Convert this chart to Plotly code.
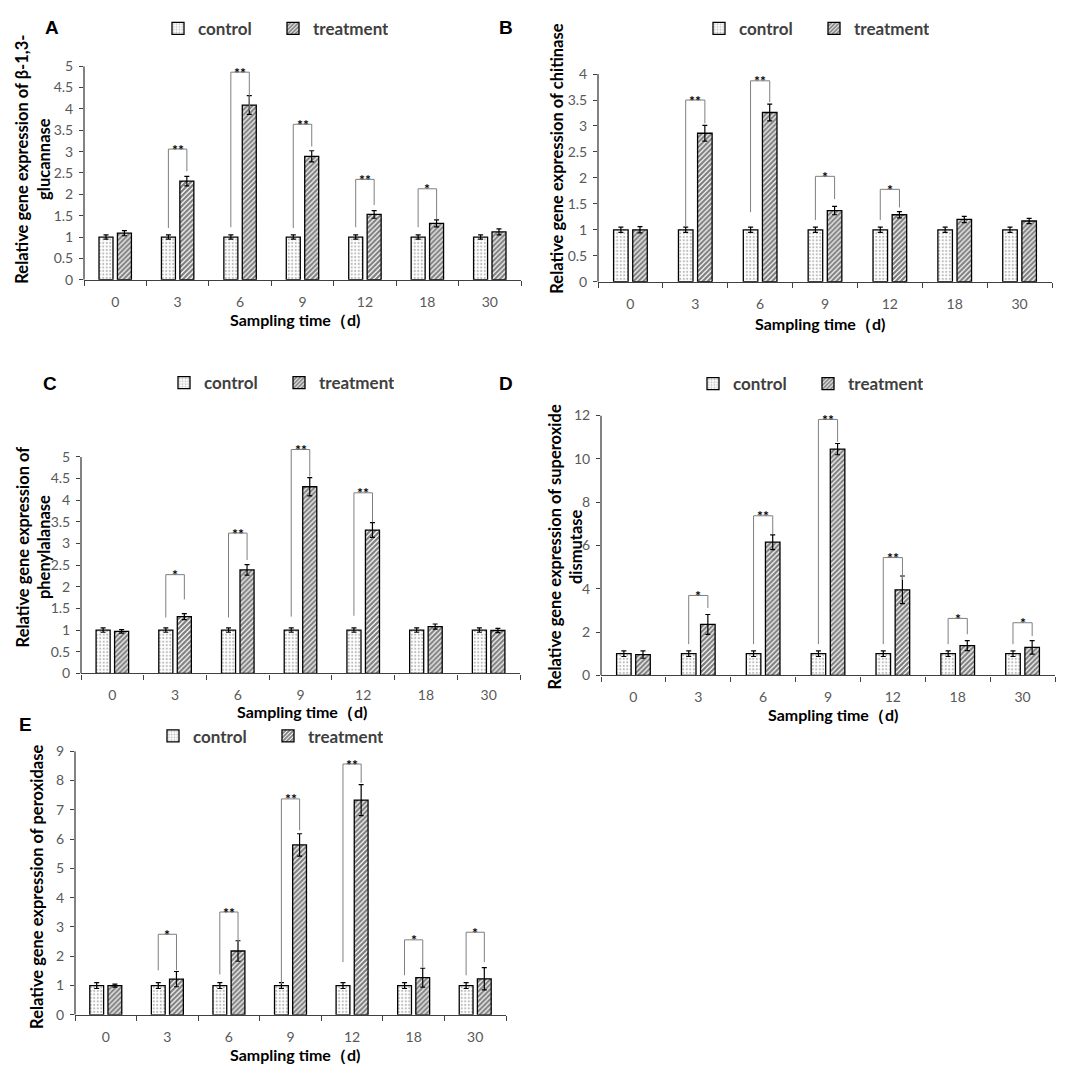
import plotly.graph_objects as go

days = ["0", "3", "6", "9", "12", "18", "30"]

# A: beta-1,3-glucanase
glu_ctrl = [1.0, 1.0, 1.0, 1.0, 1.0, 1.0, 1.0]
glu_ctrl_err = [0.05, 0.05, 0.05, 0.05, 0.05, 0.05, 0.05]
glu_trt = [1.09, 2.31, 4.09, 2.89, 1.53, 1.32, 1.12]
glu_trt_err = [0.06, 0.11, 0.22, 0.13, 0.09, 0.08, 0.07]
glu_sig = ["", "**", "**", "**", "**", "*", ""]
glu_brk_top = [None, 3.06, 4.86, 3.64, 2.35, 2.13, None]
glu_brk_left = [None, 1.21, 1.23, 1.21, 1.23, 1.23, None]
glu_brk_right = [None, 2.54, 3.96, 3.12, 1.75, 1.42, None]

# B: chitinase
chi_ctrl = [1.0, 1.0, 1.0, 1.0, 1.0, 1.0, 1.0]
chi_ctrl_err = [0.05, 0.05, 0.05, 0.05, 0.05, 0.05, 0.05]
chi_trt = [1.0, 2.86, 3.26, 1.37, 1.29, 1.2, 1.17]
chi_trt_err = [0.06, 0.15, 0.16, 0.08, 0.06, 0.06, 0.05]
chi_sig = ["", "**", "**", "*", "*", "", ""]
chi_brk_top = [None, 3.5, 3.87, 2.03, 1.78, None, None]
chi_brk_left = [None, 1.06, 1.34, 1.19, 1.19, None, None]
chi_brk_right = [None, 3.05, 3.46, 1.59, 1.43, None, None]

# C: phenylalanase
phe_ctrl = [1.0, 1.0, 1.0, 1.0, 1.0, 1.0, 1.0]
phe_ctrl_err = [0.05, 0.05, 0.05, 0.05, 0.05, 0.05, 0.05]
phe_trt = [0.97, 1.31, 2.39, 4.31, 3.31, 1.08, 0.99]
phe_trt_err = [0.04, 0.07, 0.12, 0.21, 0.17, 0.06, 0.05]
phe_sig = ["", "*", "**", "**", "**", "", ""]
phe_brk_top = [None, 2.28, 3.24, 5.17, 4.17, None, None]
phe_brk_left = [None, 1.29, 1.29, 1.31, 1.33, None, None]
phe_brk_right = [None, 1.71, 2.62, 4.55, 3.49, None, None]

# D: superoxide dismutase
sod_ctrl = [1.0, 1.0, 1.0, 1.0, 1.0, 1.0, 1.0]
sod_ctrl_err = [0.13, 0.13, 0.13, 0.13, 0.13, 0.13, 0.13]
sod_trt = [0.96, 2.35, 6.15, 10.45, 3.95, 1.37, 1.29]
sod_trt_err = [0.17, 0.46, 0.34, 0.26, 0.64, 0.23, 0.31]
sod_sig = ["", "*", "**", "**", "**", "*", "*"]
sod_brk_top = [None, 3.69, 7.37, 11.82, 5.44, 2.63, 2.43]
sod_brk_left = [None, 1.44, 1.44, 1.44, 1.44, 1.44, 1.44]
sod_brk_right = [None, 3.11, 6.53, 10.79, 4.41, 1.9, 1.82]

# E: peroxidase
pod_ctrl = [1.0, 1.0, 1.0, 1.0, 1.0, 1.0, 1.0]
pod_ctrl_err = [0.1, 0.1, 0.1, 0.1, 0.1, 0.1, 0.1]
pod_trt = [1.0, 1.22, 2.18, 5.8, 7.33, 1.27, 1.23]
pod_trt_err = [0.05, 0.26, 0.35, 0.38, 0.53, 0.32, 0.38]
pod_sig = ["", "*", "**", "**", "**", "*", "*"]
pod_brk_top = [None, 2.75, 3.51, 7.37, 8.56, 2.56, 2.82]
pod_brk_left = [None, 1.52, 1.38, 1.05, 1.8, 1.35, 1.35]
pod_brk_right = [None, 1.52, 2.47, 6.3, 7.92, 1.62, 1.8]

# the page body keeps its default 8px margin, so size the figure to fit inside it
PAD = 8
W = H = 1084 - 2 * PAD
FONT = "Lato, 'Open Sans', sans-serif"


def px(x):
    return (x - PAD) / W


def py(y):
    return 1 - (y - PAD) / H


panels = [
    dict(letter="A", data=(glu_ctrl, glu_ctrl_err, glu_trt, glu_trt_err, glu_sig, glu_brk_top, glu_brk_left, glu_brk_right),
         ymax=5, dtick=0.5, head=1.0, box=(84, 521, 58, 275),
         ytitle="Relative gene expression of β-1,3-<br>glucannase", ytpos=(33, 153),
         xtpos=(295, 316), letpos=(52, 19), legpos=(182, 20)),
    dict(letter="B", data=(chi_ctrl, chi_ctrl_err, chi_trt, chi_trt_err, chi_sig, chi_brk_top, chi_brk_left, chi_brk_right),
         ymax=4, dtick=0.5, head=1.0, box=(598, 1052, 66, 277),
         ytitle="Relative gene expression of chitinase", ytpos=(557, 152),
         xtpos=(820, 320), letpos=(506, 19), legpos=(723, 20)),
    dict(letter="C", data=(phe_ctrl, phe_ctrl_err, phe_trt, phe_trt_err, phe_sig, phe_brk_top, phe_brk_left, phe_brk_right),
         ymax=5, dtick=0.5, head=1.06, box=(81, 520, 455, 675),
         ytitle="Relative gene expression of<br>phenylalanase", ytpos=(33, 547),
         xtpos=(302, 714), letpos=(50, 380), legpos=(188, 380)),
    dict(letter="D", data=(sod_ctrl, sod_ctrl_err, sod_trt, sod_trt_err, sod_sig, sod_brk_top, sod_brk_left, sod_brk_right),
         ymax=12, dtick=2, head=1.0, box=(601, 1055, 413, 677),
         ytitle="Relative gene expression of superoxide<br>dismutase", ytpos=(565, 547),
         xtpos=(833, 717), letpos=(506, 380), legpos=(717, 381)),
    dict(letter="E", data=(pod_ctrl, pod_ctrl_err, pod_trt, pod_trt_err, pod_sig, pod_brk_top, pod_brk_left, pod_brk_right),
         ymax=9, dtick=1, head=1.0, box=(75, 506, 754, 1022),
         ytitle="Relative gene expression of peroxidase", ytpos=(37, 892),
         xtpos=(295, 1063), letpos=(25, 727), legpos=(177, 739)),
]

fig = go.Figure()
annotations = []
shapes = []
LEG = 0.148  # bracket leg offset (bar centres)

for n, p in enumerate(panels, start=1):
    ctrl, ctrl_err, trt, trt_err, sig, btop, bleft, bright = p["data"]
    sfx = "" if n == 1 else str(n)
    xa, ya = "x" + sfx, "y" + sfx
    leg = "legend" + sfx
    xpos = list(range(len(days)))

    fig.add_bar(x=xpos, y=ctrl, name="control", xaxis=xa, yaxis=ya, legend=leg,
                marker=dict(color="white", line=dict(color="black", width=1.3),
                            pattern=dict(shape=".", fgcolor="#7a7a7a", bgcolor="white", size=3.5, solidity=0.3)),
                error_y=dict(type="data", array=ctrl_err, color="black", thickness=1.2, width=2.5))
    fig.add_bar(x=xpos, y=trt, name="treatment", xaxis=xa, yaxis=ya, legend=leg,
                marker=dict(color="white", line=dict(color="black", width=1.3),
                            pattern=dict(shape="/", fgcolor="black", bgcolor="white", size=3.5, solidity=0.65)),
                error_y=dict(type="data", array=trt_err, color="black", thickness=1.2, width=2.5))

    bx, by = [], []
    for i, top in enumerate(btop):
        if top is None:
            continue
        bx += [i - LEG, i - LEG, i + LEG, i + LEG, None]
        by += [bleft[i], top, top, bright[i], None]
        annotations.append(dict(x=i, y=top, xref=xa, yref=ya, text=sig[i], showarrow=False,
                                yanchor="middle", font=dict(family=FONT, size=14, color="black", weight="bold")))
    fig.add_scatter(x=bx, y=by, mode="lines", xaxis=xa, yaxis=ya, showlegend=False,
                    line=dict(color="#7f7f7f", width=1), hoverinfo="skip")

    x0, x1, ytop, ybot = p["box"]
    head = p["head"]
    dom_top = ybot - (ybot - ytop) * head
    ticks_y = [k * p["dtick"] for k in range(int(round(p["ymax"] / p["dtick"])) + 1)]
    fig.layout[("xaxis" + sfx)] = dict(
        domain=[px(x0), px(x1)], anchor=ya, range=[-0.5, len(days) - 0.5],
        tickmode="array", tickvals=xpos, ticktext=days, ticks="", showgrid=False, zeroline=False,
        showline=True, linecolor="#404040", linewidth=1.3, ticklabelstandoff=9,
        tickfont=dict(family=FONT, size=14, color="#595959"),
        minor=dict(tickmode="array", tickvals=[k - 0.5 for k in range(len(days) + 1)],
                   ticks="outside", ticklen=5, tickcolor="#404040", tickwidth=1.2),
    )
    fig.layout[("yaxis" + sfx)] = dict(
        domain=[py(ybot), py(dom_top)], anchor=xa, range=[0, p["ymax"] * head],
        tickmode="array", tickvals=ticks_y, ticktext=[f"{v:g}" for v in ticks_y],
        ticks="outside", ticklen=4, tickcolor="#404040", tickwidth=1.2,
        showgrid=False, zeroline=False, showline=False, ticklabelstandoff=3,
        tickfont=dict(family=FONT, size=14, color="#595959"),
    )
    shapes.append(dict(type="line", xref="paper", yref=ya, x0=px(x0), x1=px(x0), y0=0, y1=p["ymax"],
                       line=dict(color="#404040", width=1.3)))

    tx, ty = p["ytpos"]
    annotations.append(dict(x=px(tx), y=py(ty), xref="paper", yref="paper", text=p["ytitle"],
                            textangle=-90, showarrow=False, xanchor="center", yanchor="middle",
                            font=dict(family=FONT, size=16.5, color="black", weight="bold")))
    tx, ty = p["xtpos"]
    annotations.append(dict(x=px(tx), y=py(ty), xref="paper", yref="paper", text="Sampling time（d)",
                            showarrow=False, xanchor="center", yanchor="middle",
                            font=dict(family=FONT, size=16, color="black", weight="bold")))
    tx, ty = p["letpos"]
    annotations.append(dict(x=px(tx), y=py(ty), xref="paper", yref="paper", text=p["letter"],
                            showarrow=False, xanchor="center", yanchor="middle",
                            font=dict(family="Liberation Sans, Arial", size=19, color="black", weight="bold")))
    lx, ly = p["legpos"]
    fig.layout[leg] = dict(x=px(lx - 24), y=py(ly), xanchor="left", yanchor="middle", orientation="h",
                           entrywidth=70, bgcolor="rgba(0,0,0,0)", traceorder="normal",
                           font=dict(family=FONT, size=17, color="#404040", weight="bold"))

fig.update_layout(
    width=W, height=H, margin=dict(l=0, r=0, t=0, b=0),
    paper_bgcolor="white", plot_bgcolor="white",
    barmode="group", bargap=0.41, bargroupgap=0.24,
    annotations=annotations, shapes=shapes, showlegend=True,
)

fig.write_html("out.html")
